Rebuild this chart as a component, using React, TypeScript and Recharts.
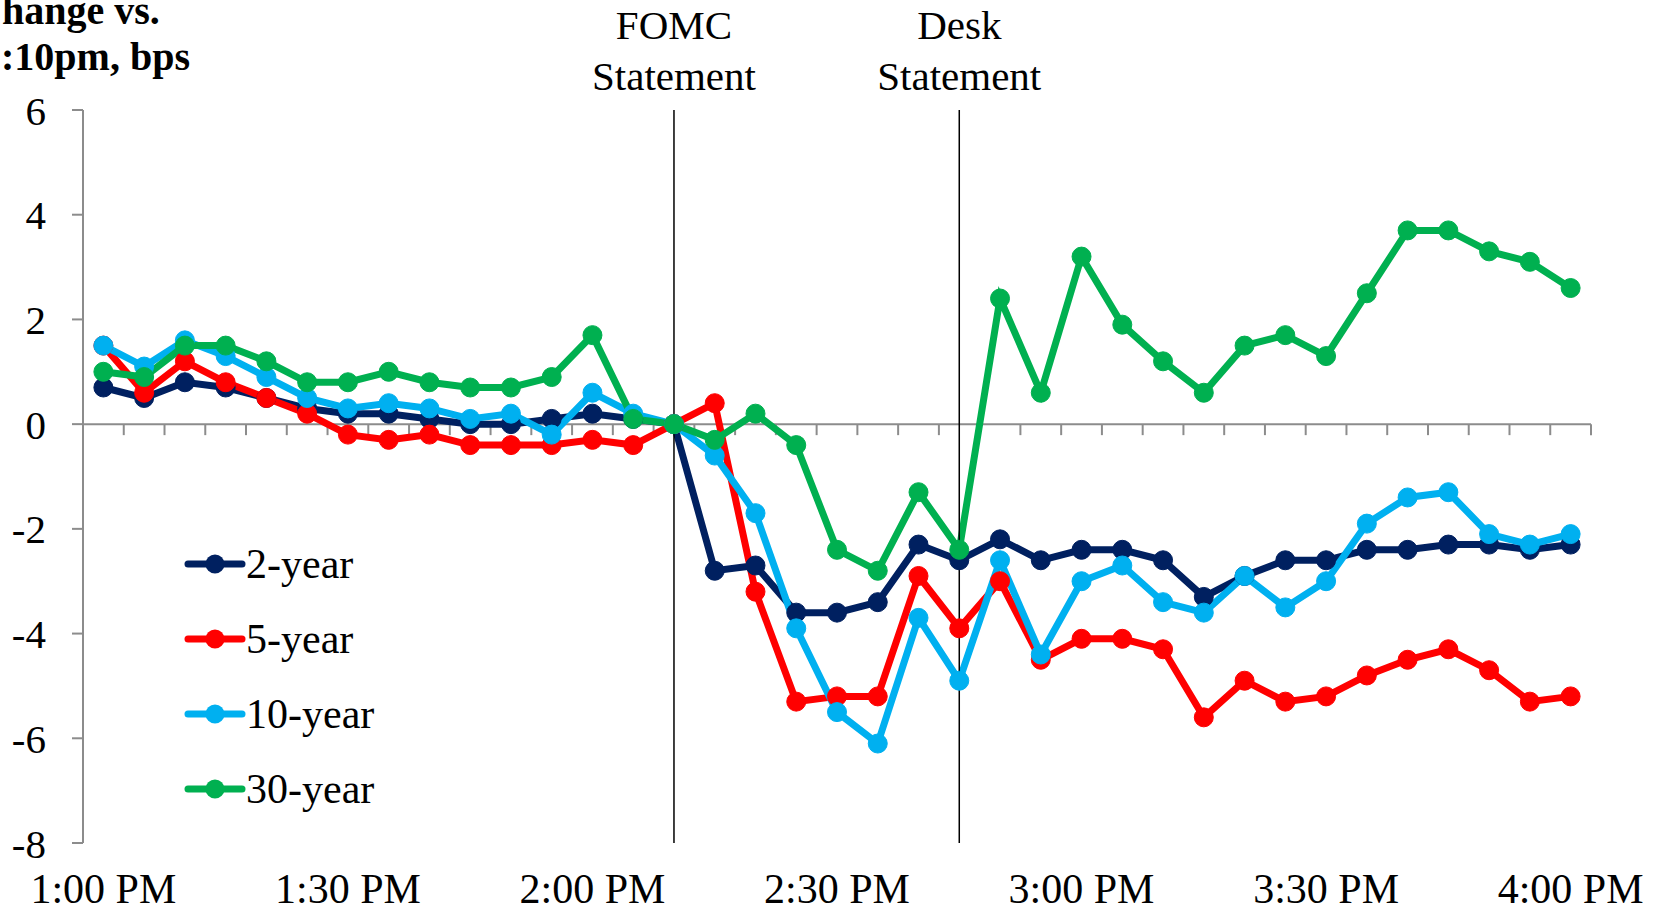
import React from 'react';
import { LineChart, Line, XAxis, YAxis, ReferenceLine } from 'recharts';

const times = [
  '1:00 PM', '1:05 PM', '1:10 PM', '1:15 PM', '1:20 PM', '1:25 PM', '1:30 PM', '1:35 PM', '1:40 PM', '1:45 PM',
  '1:50 PM', '1:55 PM', '2:00 PM', '2:05 PM', '2:10 PM', '2:15 PM', '2:20 PM', '2:25 PM', '2:30 PM', '2:35 PM',
  '2:40 PM', '2:45 PM', '2:50 PM', '2:55 PM', '3:00 PM', '3:05 PM', '3:10 PM', '3:15 PM', '3:20 PM', '3:25 PM',
  '3:30 PM', '3:35 PM', '3:40 PM', '3:45 PM', '3:50 PM', '3:55 PM', '4:00 PM',
];
const tickLabels = ['1:00 PM', '1:30 PM', '2:00 PM', '2:30 PM', '3:00 PM', '3:30 PM', '4:00 PM'];
const yTicks = [-8, -6, -4, -2, 0, 2, 4, 6];

const twoYear = [0.7, 0.5, 0.8, 0.7, 0.5, 0.3, 0.2, 0.2, 0.1, 0.0, 0.0, 0.1, 0.2, 0.1, 0.0,
  -2.8, -2.7, -3.6, -3.6, -3.4, -2.3, -2.6,
  -2.2, -2.6, -2.4, -2.4, -2.6, -3.3, -2.9, -2.6, -2.6, -2.4, -2.4, -2.3, -2.3, -2.4, -2.3];
const fiveYear = [1.5, 0.6, 1.2, 0.8, 0.5, 0.2, -0.2, -0.3, -0.2, -0.4, -0.4, -0.4, -0.3, -0.4, 0.0,
  0.4, -3.2, -5.3, -5.2, -5.2, -2.9, -3.9,
  -3.0, -4.5, -4.1, -4.1, -4.3, -5.6, -4.9, -5.3, -5.2, -4.8, -4.5, -4.3, -4.7, -5.3, -5.2];
const tenYear = [1.5, 1.1, 1.6, 1.3, 0.9, 0.5, 0.3, 0.4, 0.3, 0.1, 0.2, -0.2, 0.6, 0.2, 0.0,
  -0.6, -1.7, -3.9, -5.5, -6.1, -3.7, -4.9,
  -2.6, -4.4, -3.0, -2.7, -3.4, -3.6, -2.9, -3.5, -3.0, -1.9, -1.4, -1.3, -2.1, -2.3, -2.1];
const thirtyYear = [1.0, 0.9, 1.5, 1.5, 1.2, 0.8, 0.8, 1.0, 0.8, 0.7, 0.7, 0.9, 1.7, 0.1, 0.0,
  -0.3, 0.2, -0.4, -2.4, -2.8, -1.3, -2.4,
  2.4, 0.6, 3.2, 1.9, 1.2, 0.6, 1.5, 1.7, 1.3, 2.5, 3.7, 3.7, 3.3, 3.1, 2.6];

const seriesKeys = ['y2', 'y5', 'y10', 'y30'];
const seriesNames = ['2-year', '5-year', '10-year', '30-year'];
const seriesColors = ['#002060', '#FF0000', '#00B0F0', '#00B050'];
const seriesValues = [twoYear, fiveYear, tenYear, thirtyYear];

const eventTimes = ['2:10 PM', '2:45 PM'];
const eventLabels = [['FOMC', 'Statement'], ['Desk', 'Statement']];
const titleLines = ['Change vs.', '2:10pm, bps'];

const data = times.map((t, i) => {
  const row: Record<string, any> = { time: t };
  seriesKeys.forEach((k, s) => { row[k] = seriesValues[s][i]; });
  return row;
});

const FONT = "'Liberation Serif', 'Times New Roman', serif";
const AXIS_GRAY = '#8c8c8c';

const ZeroAxis = (props: any) => {
  const { x1, y1, x2, y2 } = props;
  const n = times.length;
  const step = (x2 - x1) / n;
  const ticks = [];
  for (let k = 0; k <= n; k++) {
    const x = x1 + k * step;
    ticks.push(<line key={k} x1={x} x2={x} y1={y1} y2={y1 + 11} stroke={AXIS_GRAY} strokeWidth={2} />);
  }
  return (
    <g>
      <line x1={x1} y1={y1} x2={x2} y2={y2} stroke={AXIS_GRAY} strokeWidth={2} />
      {ticks}
    </g>
  );
};

const makeEventLabel = (lines: string[]) => (props: any) => {
  const vb = props.viewBox || {};
  const x = vb.x;
  const top = vb.y;
  return (
    <g>
      <text x={x} y={top - 71} textAnchor="middle" fontFamily={FONT} fontSize={41} fill="#000">{lines[0]}</text>
      <text x={x} y={top - 20} textAnchor="middle" fontFamily={FONT} fontSize={41} fill="#000">{lines[1]}</text>
    </g>
  );
};

const LegendBox = () => (
  <div style={{ position: 'absolute', left: 184, top: 526, fontFamily: FONT, fontSize: 42, color: '#000' }}>
    {seriesNames.map((n, i) => (
      <div key={n} style={{ display: 'flex', alignItems: 'center', height: 75 }}>
        <svg width={62} height={22} style={{ display: 'block' }}>
          <line x1={4} x2={58} y1={11} y2={11} stroke={seriesColors[i]} strokeWidth={7} strokeLinecap="round" />
          <circle cx={31} cy={11} r={9.5} fill={seriesColors[i]} />
        </svg>
        <span style={{ lineHeight: 1 }}>{n}</span>
      </div>
    ))}
  </div>
);

export default function App() {
  return (
    <div style={{ position: 'absolute', left: 0, top: 0, width: 1663, height: 912, background: '#fff', overflow: 'hidden' }}>
      <LineChart
        width={1663}
        height={912}
        data={data}
        margin={{ top: 110, right: 72, bottom: 0, left: 0 }}
        style={{ fontFamily: FONT }}
      >
        <XAxis
          dataKey="time"
          scale="band"
          ticks={tickLabels}
          interval={0}
          axisLine={false}
          tickLine={false}
          tickSize={0}
          tickMargin={30}
          height={69}
          tick={{ fontSize: 42, fill: '#000', fontFamily: FONT }}
        />
        <YAxis
          domain={[-8, 6]}
          ticks={yTicks}
          interval={0}
          width={83}
          axisLine={{ stroke: AXIS_GRAY, strokeWidth: 2 }}
          tickLine={{ stroke: AXIS_GRAY, strokeWidth: 2 }}
          tickSize={11}
          tickMargin={26}
          tick={{ fontSize: 41, fill: '#000', fontFamily: FONT }}
          allowDataOverflow
        />
        <ReferenceLine y={0} shape={ZeroAxis} />
        {seriesKeys.map((k, i) => (
          <Line
            key={k}
            type="linear"
            dataKey={k}
            name={seriesNames[i]}
            stroke={seriesColors[i]}
            strokeWidth={7}
            dot={{ r: 9.5, fill: seriesColors[i], stroke: seriesColors[i], strokeWidth: 1 }}
            activeDot={false}
            isAnimationActive={false}
          />
        ))}
        {eventTimes.map((t, i) => (
          <ReferenceLine key={t} x={t} stroke="#000" strokeWidth={1.5} label={makeEventLabel(eventLabels[i])} />
        ))}
      </LineChart>
      <LegendBox />
      <svg width={400} height={100} style={{ position: 'absolute', left: 0, top: 0, overflow: 'visible' }}>
        <text x={-27} y={24} fontFamily={FONT} fontSize={40} fontWeight="bold" fill="#000">{titleLines[0]}</text>
        <text x={-19} y={70} fontFamily={FONT} fontSize={40} fontWeight="bold" fill="#000">{titleLines[1]}</text>
      </svg>
    </div>
  );
}
